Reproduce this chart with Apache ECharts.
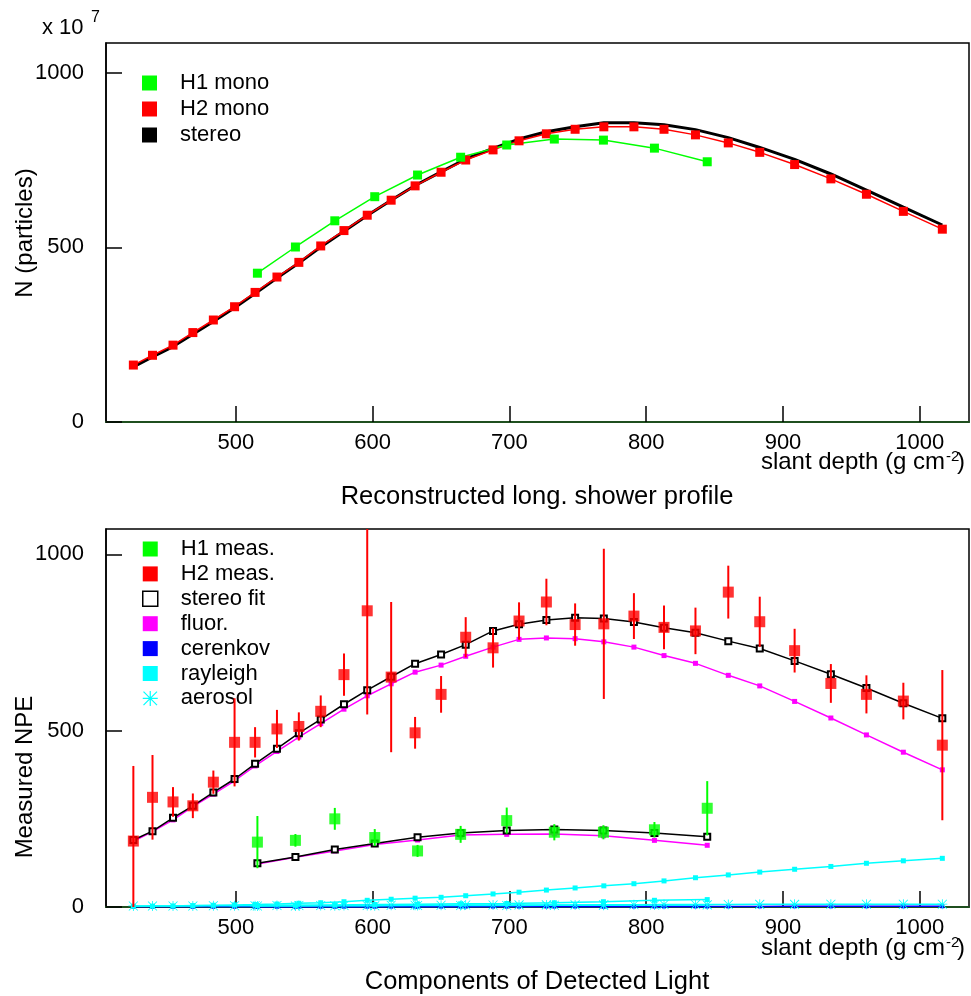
<!DOCTYPE html>
<html><head><meta charset="utf-8">
<script src="https://cdn.jsdelivr.net/npm/echarts@6/dist/echarts.min.js"></script>
<style>html,body{margin:0;padding:0;background:#fff}#c{width:971px;height:996px}</style>
</head><body><div id="c"></div>
<script>
// ---------- data ----------
const xTicks = [500, 600, 700, 800, 900, 1000];
const yTicks = [0, 500, 1000];

// slant depth of the time bins (g cm^-2)
const h2X = [425, 439, 454, 468.5, 483.5, 499, 514, 530, 546, 562, 579, 596, 613.5, 631, 650, 668, 688, 707, 727, 748, 769, 791, 813, 836, 860, 883, 908.5, 935, 961, 988, 1016.5];
const h1X = [515.7, 543.5, 572.3, 601.5, 632.8, 664.3, 698, 732.8, 768.7, 806, 844.6];

// top panel: reconstructed profile (x 10^7 particles)
const h2Mono = [163, 191, 220, 256, 292, 330, 371, 415, 457, 504, 548, 592, 635, 676, 715, 750, 779, 805, 825, 838, 845, 845, 838, 822, 799, 772, 737, 696, 652, 603, 552];
const h1Mono = [426, 501, 576, 645, 707, 758, 793, 810, 807, 784, 745];
const stereo = [158, 186, 216, 251, 288, 327, 368, 412, 455, 501, 546, 591, 635, 677, 716, 753, 783, 810, 831, 845, 857, 857, 851, 837, 814, 786, 752, 710, 664, 615, 564];

// bottom panel: components of detected light (NPE)
const h2Meas = [187, 311, 298, 287, 354, 467, 467, 505, 512, 555, 659, 840, 652, 494, 603, 765, 735, 811, 865, 801, 803, 825, 793, 783, 893, 809, 727, 634, 603, 584, 459];
const h2Err  = [213, 120, 42, 35, 33, 125, 43, 54, 40, 45, 60, 294, 213, 45, 52, 57, 56, 53, 66, 60, 213, 65, 62, 66, 75, 71, 62, 55, 54, 52, 213];
const h2Fit  = [190, 215, 253, 287, 325, 363, 406, 449, 493, 532, 575, 615, 653, 690, 716, 744, 783, 802, 814, 820, 818, 808, 792, 778, 754, 733, 698, 660, 621, 578, 535];
const h2Fluor= [186, 214, 247, 285, 320, 358, 400, 441, 482, 520, 561, 599, 633, 666, 686, 711, 737, 759, 763, 761, 752, 737, 713, 691, 657, 627, 583, 536, 488, 439, 389];
const h2Cer  = [0.5, 0.5, 0.6, 0.6, 0.7, 0.7, 0.8, 0.8, 0.9, 0.9, 1, 1, 1.1, 1.1, 1.2, 1.2, 1.3, 1.3, 1.4, 1.4, 1.5, 1.5, 1.6, 1.6, 1.7, 1.7, 1.8, 1.8, 1.9, 1.9, 2];
const h2Ray  = [2, 2.5, 3, 4, 5, 6, 7, 8.5, 10.5, 12, 15, 19, 22, 25, 27.5, 32, 37, 42, 48, 54, 60, 66, 74, 83, 91, 99, 107, 115, 124, 131, 138];
const h2Aer  = [3, 3, 3, 3, 3.5, 3.5, 3.5, 4, 4, 4, 4.5, 4.5, 5, 5, 5, 5.5, 5.5, 6, 6, 6, 6.5, 6.5, 7, 7, 7, 7.5, 7.5, 8, 8, 8, 8];

const h1Meas = [184, 189, 250, 197, 159, 206, 245, 212, 212, 219, 280];
const h1Err  = [74, 18, 31, 24, 17, 24, 37, 23, 20, 22, 77];
const h1Fit  = [124, 142, 163, 180, 198, 210, 217, 220, 217, 210, 199];
const h1Fluor= [122, 141, 159, 177, 190, 204, 206, 207, 202, 189, 175];
const h1Cer  = [0.5, 0.6, 0.7, 0.8, 0.9, 1, 1.1, 1.2, 1.3, 1.4, 1.5];
const h1Ray  = [4, 5, 6, 7, 8, 9, 10, 12, 15, 19, 21];
const h1Aer  = [3, 3, 3.5, 3.5, 4, 4, 4.5, 5, 5, 5.5, 6];

// ---------- helpers ----------
const FF = '"Liberation Sans", Arial, Helvetica, sans-serif';
const GREEN = '#00ff00', RED = '#ff0000', MAG = '#ff00ff', CYAN = '#00ffff', BLUE = '#0000ff';
const STAR = 'path://M9.2 0 L10.8 0 L10.8 20 L9.2 20 Z M0 9.2 L20 9.2 L20 10.8 L0 10.8 Z M1.57 0.43 L19.57 18.43 L18.43 19.57 L0.43 1.57 Z M18.43 0.43 L19.57 1.57 L1.57 19.57 L0.43 18.43 Z';

const pairs = (xs, ys) => xs.map((x, i) => [x, ys[i]]);
const triples = (xs, ys, es) => xs.map((x, i) => [x, ys[i], es[i]]);
const plain = v => String(v);

function lineSeries(name, gi, xs, ys, color, opts) {
  return Object.assign({
    type: 'line', name: name, xAxisIndex: gi, yAxisIndex: gi,
    data: pairs(xs, ys), symbol: 'rect', symbolSize: 6,
    lineStyle: { color: color, width: 1.5 },
    itemStyle: { color: color },
    animation: false, clip: true, z: 3
  }, opts || {});
}
function errSeries(name, gi, xs, ys, es, color) {
  return {
    type: 'custom', name: name, xAxisIndex: gi, yAxisIndex: gi, clip: true, z: 4,
    data: triples(xs, ys, es), encode: { x: 0, y: 1 }, animation: false,
    renderItem: function (params, api) {
      const x = api.value(0), y = api.value(1), e = api.value(2);
      const p1 = api.coord([x, y - e]), p2 = api.coord([x, y + e]);
      return { type: 'line', shape: { x1: p1[0], y1: p1[1], x2: p2[0], y2: p2[1] },
               style: { stroke: color, lineWidth: 2 } };
    }
  };
}
function xAx(gi) {
  return {
    type: 'value', gridIndex: gi, min: 405, max: 1036,
    axisLine: { show: true, onZero: false, lineStyle: { color: '#1f4f1f', width: 2 } },
    axisTick: { show: true, inside: true, length: 16, customValues: xTicks, lineStyle: { color: '#000', width: 1.5 } },
    axisLabel: { show: true, margin: 10, customValues: xTicks, formatter: plain, color: '#000', fontSize: 22, fontFamily: FF },
    splitLine: { show: false }
  };
}
function yAx(gi, max) {
  return {
    type: 'value', gridIndex: gi, min: 0, max: max,
    axisLine: { show: true, onZero: false, lineStyle: { color: '#000', width: 1.5 } },
    axisTick: { show: true, inside: true, length: 16, customValues: yTicks, lineStyle: { color: '#000', width: 1.5 } },
    axisLabel: { show: true, margin: 22, customValues: yTicks, formatter: plain, color: '#000', fontSize: 22, fontFamily: FF },
    splitLine: { show: false }
  };
}
function txt(text, x, y, size, align, rot) {
  return { type: 'text', x: x, y: y, rotation: rot || 0, z: 10,
    style: { text: text, fill: '#000', font: size + 'px ' + FF, textAlign: align || 'center', textVerticalAlign: 'middle' } };
}

// ---------- chart ----------
const chart = echarts.init(document.getElementById('c'), null, { renderer: 'canvas' });
const legText = (lh) => ({ fontSize: 22, fontFamily: FF, color: '#000', lineHeight: lh, padding: [0, 0, 0, 18] });

const option = {
  backgroundColor: '#fff',
  animation: false,
  grid: [
    { left: 106, top: 43, width: 863, height: 379, show: true, borderColor: '#000', borderWidth: 1.5, backgroundColor: 'transparent' },
    { left: 106, top: 529, width: 863, height: 378, show: true, borderColor: '#000', borderWidth: 1.5, backgroundColor: 'transparent' }
  ],
  xAxis: [xAx(0), xAx(1)],
  yAxis: [yAx(0, 1085), yAx(1, 1072)],
  legend: [
    { orient: 'vertical', left: 142, top: 72, padding: 0, itemWidth: 15, itemHeight: 15, itemGap: 4,
      selectedMode: false, textStyle: legText(22),
      data: [
        { name: 'H1 mono', icon: 'rect', itemStyle: { color: GREEN } },
        { name: 'H2 mono', icon: 'rect', itemStyle: { color: RED } },
        { name: 'stereo', icon: 'rect', itemStyle: { color: '#000' } }
      ] },
    { orient: 'vertical', left: 142, top: 538, padding: 0, itemWidth: 15, itemHeight: 15, itemGap: 2.9,
      selectedMode: false, textStyle: legText(20),
      data: [
        { name: 'H1 meas.', icon: 'rect', itemStyle: { color: GREEN } },
        { name: 'H2 meas.', icon: 'rect', itemStyle: { color: RED } },
        { name: 'stereo fit', icon: 'rect', itemStyle: { color: '#fff', borderColor: '#000', borderWidth: 1.5 } },
        { name: 'fluor.', icon: 'rect', itemStyle: { color: MAG } },
        { name: 'cerenkov', icon: 'rect', itemStyle: { color: BLUE } },
        { name: 'rayleigh', icon: 'rect', itemStyle: { color: CYAN } },
        { name: 'aerosol', icon: STAR, itemStyle: { color: CYAN } }
      ] }
  ],
  series: [
    // top panel
    lineSeries('stereo', 0, h2X, stereo, '#000', { showSymbol: false, symbol: 'none', lineStyle: { color: '#000', width: 3 }, z: 2 }),
    lineSeries('H2 mono', 0, h2X, h2Mono, RED, { symbolSize: 9 }),
    lineSeries('H1 mono', 0, h1X, h1Mono, GREEN, { symbolSize: 9 }),
    // bottom panel
    lineSeries('cerenkov', 1, h2X, h2Cer, BLUE, { symbolSize: 4 }),
    lineSeries('cerenkov', 1, h1X, h1Cer, BLUE, { symbolSize: 4 }),
    lineSeries('aerosol', 1, h2X, h2Aer, CYAN, { symbol: STAR, symbolSize: 10 }),
    lineSeries('aerosol', 1, h1X, h1Aer, CYAN, { symbol: STAR, symbolSize: 10 }),
    lineSeries('rayleigh', 1, h2X, h2Ray, CYAN, { symbolSize: 5 }),
    lineSeries('rayleigh', 1, h1X, h1Ray, CYAN, { symbolSize: 5 }),
    lineSeries('fluor.', 1, h2X, h2Fluor, MAG, { symbolSize: 5 }),
    lineSeries('fluor.', 1, h1X, h1Fluor, MAG, { symbolSize: 5 }),
    lineSeries('stereo fit', 1, h2X, h2Fit, '#000', { symbol: 'emptyRect', symbolSize: 6, itemStyle: { color: '#000', borderWidth: 1.5 } }),
    lineSeries('stereo fit', 1, h1X, h1Fit, '#000', { symbol: 'emptyRect', symbolSize: 6, itemStyle: { color: '#000', borderWidth: 1.5 } }),
    errSeries('H2 meas.', 1, h2X, h2Meas, h2Err, RED),
    errSeries('H1 meas.', 1, h1X, h1Meas, h1Err, GREEN),
    { type: 'scatter', name: 'H2 meas.', xAxisIndex: 1, yAxisIndex: 1, data: pairs(h2X, h2Meas), symbol: 'rect', symbolSize: 11, itemStyle: { color: RED }, z: 5, clip: true },
    { type: 'scatter', name: 'H1 meas.', xAxisIndex: 1, yAxisIndex: 1, data: pairs(h1X, h1Meas), symbol: 'rect', symbolSize: 11, itemStyle: { color: GREEN }, z: 5, clip: true }
  ],
  graphic: [
    txt('x 10', 42, 28, 22, 'left'),
    txt('7', 91, 18, 16, 'left'),
    txt('N (particles)', 25, 233, 24, 'center', Math.PI / 2),
    txt('Measured NPE', 25, 777, 24, 'center', Math.PI / 2),
    txt('slant depth (g cm', 945, 462, 24, 'right'),
    txt('-2', 946, 457, 15, 'left'),
    txt(')', 965, 462, 24, 'right'),
    txt('Reconstructed long. shower profile', 537, 497, 25.5, 'center'),
    txt('slant depth (g cm', 945, 948, 24, 'right'),
    txt('-2', 946, 943, 15, 'left'),
    txt(')', 965, 948, 24, 'right'),
    txt('Components of Detected Light', 537, 982, 25.5, 'center')
  ]
};
chart.setOption(option);
</script></body></html>
